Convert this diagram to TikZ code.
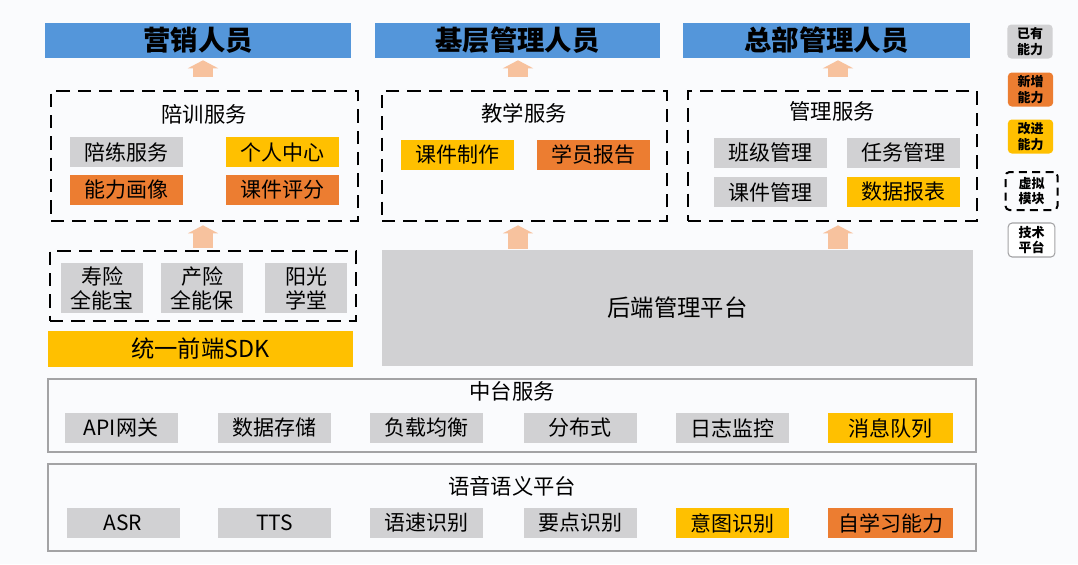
\documentclass[tikz,border=0pt]{standalone}
\usepackage{fontspec}
\setmainfont{Noto Sans CJK SC}
\usepackage{tikz}
\usetikzlibrary{arrows.meta}

\definecolor{hdblue}{HTML}{5496DA}
\definecolor{capgray}{HTML}{D1D1D3}
\definecolor{capyellow}{HTML}{FFC000}
\definecolor{caporange}{HTML}{EC7D31}
\definecolor{peach}{HTML}{F7C29E}
\definecolor{paper}{HTML}{FAFBFD}
\definecolor{rimgray}{HTML}{A3A3A5}

\begin{document}
\begin{tikzpicture}[x=0.75pt, y=-0.75pt,
  header/.style={fill=hdblue, minimum width=#1, minimum height=26.25pt, inner sep=0pt,
    font=\fontsize{20.5}{24}\selectfont\bfseries},
  grp/.style={draw, line width=2pt, dash pattern=on 10pt off 6pt, minimum height=97.5pt},
  capbox/.style={minimum width=84.75pt, minimum height=22.5pt, inner sep=0pt,
    font=\fontsize{15.75}{18}\selectfont},
  had/.style={capbox, fill=capgray},
  new/.style={capbox, fill=caporange},
  better/.style={capbox, fill=capyellow},
  grptitle/.style={font=\fontsize{16}{18}\selectfont},
  layerbox/.style={draw=rimgray, line width=1pt, minimum width=696pt},
  fat/.style={-{Triangle[width=22.5pt,length=6pt]}, line width=15pt, draw=peach},
  legendbox/.style={rounded corners=3pt, minimum width=34pt, minimum height=25.5pt, inner sep=0pt,
    align=center, font=\fontsize{9.75}{11.5}\selectfont\bfseries}]

\useasboundingbox[fill=paper] (0,0) rectangle (1078,564);

% roles
\node [header=229.5pt] (sales) at (198,40.5) {营销人员};
\node [header=213.75pt] (base) at (517.5,40.5) {基层管理人员};
\node [header=215.25pt] (hq) at (826.5,40.5) {总部管理人员};

% services
\node [grp, minimum width=230.25pt] (train) at (204.5,156) {};
\node [grptitle] (traint) at (204,114) {陪训服务};
\node [had] (drill) at (126,152) {陪练服务};
\node [better] (home) at (282.5,152) {个人中心};
\node [new] (portrait) at (126,190) {能力画像};
\node [new] (score) at (282.5,190) {课件评分};

\node [grp, minimum width=213.75pt] (teach) at (524.5,156) {};
\node [grptitle] (teacht) at (524,113) {教学服务};
\node [better] (make) at (457.5,155) {课件制作};
\node [new] (report) at (593,155) {学员报告};

\node [grp, minimum width=216.75pt] (admin) at (832.5,156) {};
\node [grptitle] (admint) at (832,111) {管理服务};
\node [had] (klass) at (770,152.5) {班级管理};
\node [had] (task) at (903,152.5) {任务管理};
\node [had] (course) at (770,192) {课件管理};
\node [better] (sheet) at (903,192) {数据报表};

% apps
\node [grp, minimum width=229.5pt, minimum height=52.5pt] (apps) at (203,286) {};
\node [had, minimum width=61.5pt, minimum height=37.5pt, align=center] (life) at (102,288) {寿险\\全能宝};
\node [had, minimum width=61.5pt, minimum height=37.5pt, align=center] (prop) at (202,288) {产险\\全能保};
\node [had, minimum width=61.5pt, minimum height=37.5pt, align=center] (sun) at (306,288) {阳光\\学堂};

\node [better, minimum width=228.75pt, minimum height=27pt, font=\fontsize{17.5}{20}\selectfont] (sdk) at (200.5,349) {统一前端SDK};
\node [had, minimum width=443.25pt, minimum height=87pt, font=\fontsize{17.5}{20}\selectfont] (back) at (677.5,308) {后端管理平台};

% middle platform
\node [layerbox, minimum height=54.75pt] (mid) at (512,415.5) {};
\node [grptitle] (midt) at (512,391) {中台服务};
\node [had] (api) at (121,428) {API网关};
\node [had] (store) at (274.5,428) {数据存储};
\node [had] (lb) at (426.5,428) {负载均衡};
\node [had] (dist) at (580,428) {分布式};
\node [had] (log) at (732.5,428) {日志监控};
\node [better, minimum width=93.75pt] (queue) at (890.5,428) {消息队列};

% speech platform
\node [layerbox, minimum height=65.25pt] (voice) at (512,507.5) {};
\node [grptitle] (voicet) at (512,486) {语音语义平台};
\node [had] (asr) at (123,523) {ASR};
\node [had] (tts) at (274.5,523) {TTS};
\node [had] (speed) at (426.5,523) {语速识别};
\node [had] (point) at (580,523) {要点识别};
\node [better] (intent) at (732.5,523) {意图识别};
\node [new, minimum width=93.75pt] (learn) at (890.5,523) {自学习能力};

% arrows
\draw [fat, shorten <=9.75pt, shorten >=1.5pt] (train.north -| 203,0) -- (sales.south -| 203,0);
\draw [fat, shorten <=9.75pt, shorten >=1.5pt] (teach.north -| 518,0) -- (base.south -| 518,0);
\draw [fat, shorten <=9.75pt, shorten >=1.5pt] (admin.north -| 838,0) -- (hq.south -| 838,0);
\draw [fat, shorten <=1.5pt, shorten >=2.25pt] (apps.north -| 203,0) -- (train.south -| 203,0);
\draw [fat, shorten <=0.75pt, shorten >=2.25pt] (back.north -| 518,0) -- (teach.south -| 518,0);
\draw [fat, shorten <=0.75pt, shorten >=2.25pt] (back.north -| 838,0) -- (admin.south -| 838,0);

% legend
\node [legendbox, fill=capgray] (k1) at (1030,41.5) {已有\\能力};
\node [legendbox, fill=caporange] (k2) at (1030.5,89.5) {新增\\能力};
\node [legendbox, fill=capyellow] (k3) at (1030.5,136.5) {改进\\能力};
\node [legendbox, draw, line width=1.5pt, dash pattern=on 6pt off 4pt, minimum width=39pt, minimum height=28.5pt] (k4) at (1031.5,191) {虚拟\\模块};
\node [legendbox, draw=rimgray, fill=white, line width=0.8pt, minimum width=35pt] (k5) at (1031.5,240) {技术\\平台};

\end{tikzpicture}
\end{document}
